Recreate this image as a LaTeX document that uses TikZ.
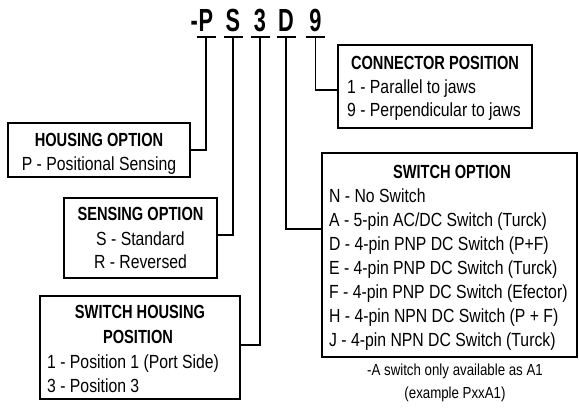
\documentclass[tikz,border=0pt]{standalone}
\usepackage{fontspec}
\usepackage{tikz}
\setmainfont[FakeStretch=0.83]{Liberation Sans}
\newfontfamily\kopffont[FakeStretch=0.77]{Liberation Sans}
\newfontfamily\titelfont[FakeStretch=0.68]{Liberation Sans}

\begin{document}
\begin{tikzpicture}[x=1pt, y=-1pt,
    kasten/.style={draw, line width=1.3pt, inner sep=0pt},
    linie/.style={line width=1.3pt},
    buchst/.style={font=\titelfont\bfseries\fontsize{32}{36}\selectfont, anchor=base, inner sep=0pt},
    kopf/.style={font=\kopffont\bfseries\fontsize{19}{22}\selectfont, anchor=base, inner sep=0pt},
    zeile/.style={font=\fontsize{19}{22}\selectfont, anchor=base west, inner sep=0pt},
    mitte/.style={zeile, anchor=base},
    fuss/.style={font=\fontsize{16}{19}\selectfont, anchor=base, inner sep=0pt}]
    \useasboundingbox (0,0) rectangle (579,408);  %Rahmen

    % Bestellschluessel
    \node [buchst] (p) at (206,31) {P};
    \node [buchst, anchor=base east] (strich) at ([xshift=-0.5pt]p.base west) {-};
    \node [buchst] (s) at (233,31) {S};
    \node [buchst] (drei) at (260,31) {3};
    \node [buchst] (d) at (286,31) {D};
    \node [buchst] (neun) at (315.5,31) {9};
    \foreach \b in {p,s,drei,d,neun}
        \draw [linie] ([xshift=-9.5pt, yshift=-6pt]\b.base) -- ++(19,0);  %Unterstrich

    % Kaesten
    \node [kasten, minimum width=194pt, minimum height=83pt] (stecker) at (435,86.5) {};
    \node [kasten, minimum width=182pt, minimum height=54pt] (gehaeuse) at (99,150) {};
    \node [kasten, minimum width=153pt, minimum height=80pt] (sensor) at (140.5,238) {};
    \node [kasten, minimum width=255pt, minimum height=204pt] (schalter) at (449.5,255) {};
    \node [kasten, minimum width=200pt, minimum height=103pt] (lage) at (140,347.5) {};

    % Verbindungen
    \draw [linie] ([yshift=-6pt]p.base) |- (gehaeuse.east);
    \draw [linie] ([yshift=-6pt]s.base) |- ([yshift=3pt]sensor.east);
    \draw [linie] ([yshift=-6pt]drei.base) |- ([yshift=2.5pt]lage.east);
    \draw [linie] ([yshift=-6pt]d.base) |- ([yshift=26pt]schalter.west);
    \draw [linie] ([yshift=-6pt]neun.base) |- ([yshift=-3.5pt]stecker.west);

    % Texte
    \node [kopf] (stecker-k) at (435,69) {CONNECTOR POSITION};
    \node [zeile] (stecker-1) at (347,93) {1 - Parallel to jaws};
    \node [zeile] (stecker-9) at (347,116) {9 - Perpendicular to jaws};

    \node [kopf] (gehaeuse-k) at (99,146) {HOUSING OPTION};
    \node [mitte] (gehaeuse-p) at (99,170) {P - Positional Sensing};

    \node [kopf] (sensor-k) at (140.5,220) {SENSING OPTION};
    \node [mitte] (sensor-s) at (140.5,245) {S - Standard};
    \node [mitte] (sensor-r) at (140.5,268) {R - Reversed};

    \node [kopf] (lage-k1) at (140,318) {SWITCH HOUSING};
    \node [kopf] (lage-k2) at (138,343) {POSITION};
    \node [zeile] (lage-1) at (47,368) {1 - Position 1 (Port Side)};
    \node [zeile] (lage-3) at (47,392) {3 - Position 3};

    \node [kopf] (schalter-k) at (452,178) {SWITCH OPTION};
    \foreach \t [count=\i] in {N - No Switch, A - 5-pin AC/DC Switch (Turck),
            D - 4-pin PNP DC Switch (P+F), E - 4-pin PNP DC Switch (Turck),
            F - 4-pin PNP DC Switch (Efector), H - 4-pin NPN DC Switch (P + F),
            J - 4-pin NPN DC Switch (Turck)}
        \node [zeile] (opt\i) at (329,178+24*\i) {\t};
    \node [fuss] (hinweis-1) at (455,375) {-A switch only available as A1};
    \node [fuss] (hinweis-2) at (455,398) {(example PxxA1)};
\end{tikzpicture}
\end{document}
